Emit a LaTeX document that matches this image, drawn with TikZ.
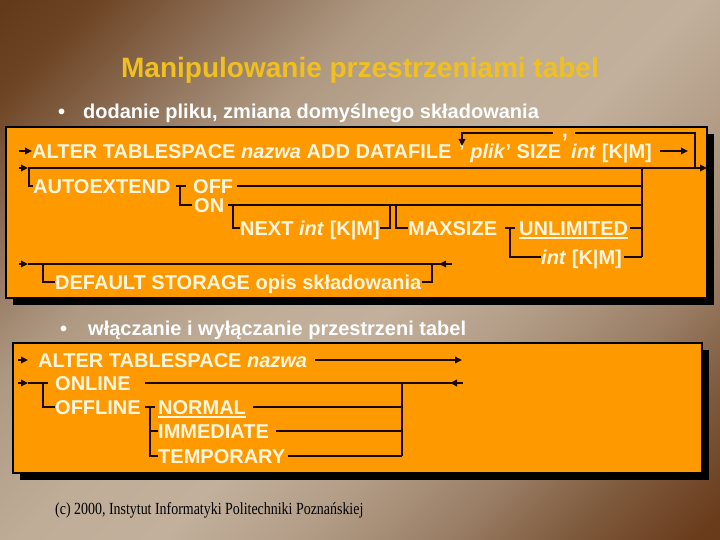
\documentclass[tikz,border=0pt]{standalone}
\usepackage{fontspec}
\setmainfont{Liberation Sans}
\newfontfamily\footfont{Liberation Serif}
\usetikzlibrary{arrows.meta,calc}
\definecolor{boxor}{HTML}{FF9900}
\definecolor{txtc}{HTML}{FFF6E0}
\definecolor{titc}{HTML}{F0C020}
\definecolor{linec}{HTML}{180800}
\definecolor{bgA}{HTML}{5A3012}
\definecolor{bgB}{HTML}{633A1A}
\definecolor{bgC}{HTML}{6E4524}
\definecolor{bgD}{HTML}{8E7058}
\definecolor{bgE}{HTML}{AE9882}
\definecolor{bgF}{HTML}{BFAD98}
\definecolor{bgG}{HTML}{C2B09C}
\definecolor{bgH}{HTML}{B29C86}
\definecolor{bgI}{HTML}{9A7E66}
\definecolor{bgJ}{HTML}{7E5A3C}
\definecolor{bgK}{HTML}{6A3C1C}
\definecolor{bgL}{HTML}{5A2E0E}
\pgfdeclarehorizontalshading{bgshade}{100bp}{color(0bp)=(bgA); color(15bp)=(bgB); color(20bp)=(bgC); color(28bp)=(bgD); color(36bp)=(bgE); color(46bp)=(bgF); color(54bp)=(bgG); color(62bp)=(bgH); color(70bp)=(bgI); color(77bp)=(bgJ); color(84bp)=(bgK); color(100bp)=(bgL)}
\begin{document}
\begin{tikzpicture}[x=1pt,y=-1pt,
  kw/.style={anchor=west,inner sep=0pt,text=txtc,font=\bfseries\fontsize{20}{22}\selectfont,text height=14.3pt,text depth=0pt},
  ln/.style={draw=linec,line width=1.8pt,line join=miter},
  arr/.style={ln,-{Triangle[length=7pt,width=6.5pt]}},
  endmark/.style={ln,-{Triangle[reversed,length=7pt,width=6.5pt]}},
  ul/.style={draw=txtc,line width=1.5pt},
  boxst/.style={draw=black,line width=2pt,fill=boxor},
  shad/.style={fill=black}]
\useasboundingbox (0,0) rectangle (720,540);
\shade[shading=bgshade,shading angle=-45] (0,0) rectangle (720,540);

% title and bullets
\node[text=titc,font=\bfseries\fontsize{28}{32}\selectfont,inner sep=0pt] (title) at (360,70) {Manipulowanie przestrzeniami tabel};
\node[kw,text=white] (b1) at (58,111) {•};
\node[kw,text=white] (t1) at (83,111) {dodanie pliku, zmiana domyślnego składowania};
\node[kw,text=white] (b2) at (60,328) {•};
\node[kw,text=white] (t2) at (88,328) {włączanie i wyłączanie przestrzeni tabel};

% ---------- top box ----------
\fill[shad] (13,134) rectangle (714,305);
\path[boxst] (6,127) rectangle (707,298);

% line 1
\coordinate (s1) at (19,151);
\node[kw] (alt) at (32,151) {ALTER TABLESPACE \textit{nazwa} ADD DATAFILE};
\node[kw] (plik) at (459,151) {’ \textit{plik}’ SIZE};
\node[kw] (intA) at (571,151) {\textit{int} [K|M]};
\coordinate (e1a) at (660,151);
\coordinate (e1b) at (688,151);
\draw[arr] (s1) -- (alt.west);
\draw[arr] (e1a) -- (e1b);
% repetition loop
\coordinate (lpL) at (462,133);
\coordinate (lpD) at (462,146);
\coordinate (cmL) at (553,133);
\coordinate (cmR) at (575,133);
\coordinate (lpR) at (695,133);
\coordinate (lpB) at (695,168);
\node[inner sep=0pt,anchor=base,text=txtc,font=\bfseries\fontsize{22}{24}\selectfont] (cm) at (565,138) {,};
\draw[ln] (lpB) -- (lpR) -- (cmR);
\draw[arr] (cmL) -- (lpL) -- (lpD);

% line 2
\coordinate (s2) at (19,168);
\coordinate (s2b) at (28,168);
\coordinate (e2) at (707,168);
\draw[arr] (s2) -- (s2b);
\draw[arr] (s2b) -- (e2);
\node[kw] (ae) at (33,186) {AUTOEXTEND};
\draw[ln] (29,168) |- (ae.west);
\node[kw] (off) at (193,186) {OFF};
\node[kw] (on) at (194,205) {ON};
\coordinate (j1) at (180,186);
\draw[ln] ($(ae.east)+(5,0)$) -- ($(off.west)+(-7,0)$);
\draw[ln] (j1) |- ($(on.west)+(-2,0)$);
\coordinate (rj) at (642,168);
\coordinate (rjB) at (642,257);
\draw[ln] (rj) -- (rjB);
\draw[ln] ($(off.east)+(4,0)$) -- (off.east -| rj);
\draw[ln] ($(on.east)+(4,0)$) -- (on.east -| rj);
\node[kw] (next) at (240,228) {NEXT \textit{int} [K|M]};
\draw[ln] (233,205) |- (next.west);
\draw[ln] (next.east) -| (390,205);
\node[kw] (maxs) at (408,228) {MAXSIZE};
\draw[ln] (396,205) |- (maxs.west);
\node[kw] (unl) at (519,228) {UNLIMITED};
\node[kw] (intB) at (541,257) {\textit{int} [K|M]};
\draw[ul] ([yshift=-2.5pt]unl.south west) -- ([yshift=-2.5pt]unl.south east);
\draw[ln] ($(maxs.east)+(8,0)$) -- ($(unl.west)+(-4,0)$);
\draw[ln] (510,228) |- (intB.west);
\draw[ln] ($(unl.east)+(2,0)$) -- (unl.east -| rj);
\draw[ln] ($(intB.east)+(2,0)$) -- (rjB);

% line 3
\coordinate (s3) at (19,264);
\coordinate (s3b) at (28,264);
\coordinate (m3) at (446,264);
\coordinate (e3) at (452,264);
\draw[arr] (s3) -- (s3b);
\draw[ln] (s3b) -- (432,264);
\draw[endmark] (432,264) -- (m3);
\draw[ln] (m3) -- (e3);
\node[kw] (ds) at (55,282) {DEFAULT STORAGE opis składowania};
\draw[ln] (43,264) |- (ds.west);
\draw[ln] ($(ds.east)+(1,0)$) -| (432,264);

% ---------- bottom box ----------
\fill[shad] (20,350) rectangle (709,480);
\path[boxst] (13,343) rectangle (702,473);

\node[kw] (alt2) at (38,360) {ALTER TABLESPACE \textit{nazwa}};
\draw[arr] (18,360) -- (28,360);
\coordinate (e4) at (462,360);
\draw[arr] ($(alt2.east)+(8,0)$) -- (e4);

\node[kw] (onl) at (55,383) {ONLINE};
\node[kw] (offl) at (55,407) {OFFLINE};
\coordinate (s5) at (18,383);
\coordinate (s5b) at (28,383);
\draw[arr] (s5) -- (s5b);
\draw[ln] (s5b) -- (48,383);
\draw[ln] (43,383) |- (offl.west);
\coordinate (rj2) at (402,383);
\coordinate (m5) at (457,383);
\coordinate (e5) at (463,383);
\draw[ln] ($(onl.east)+(14,0)$) -- (rj2) -- (443,383);
\draw[endmark] (443,383) -- (m5);
\draw[ln] (m5) -- (e5);

\node[kw] (norm) at (158,407) {NORMAL};
\node[kw] (imm) at (158,431) {IMMEDIATE};
\node[kw] (temp) at (158,456) {TEMPORARY};
\draw[ul] ([yshift=-2.5pt]norm.south west) -- ([yshift=-2.5pt]norm.south east);
\draw[ln] ($(offl.east)+(4,0)$) -- (155,407);
\draw[ln] (150,407) |- (temp.west);
\draw[ln] (150,431) -- (imm.west);
\draw[ln] ($(norm.east)+(7,0)$) -- (norm.east -| rj2);
\draw[ln] ($(imm.east)+(7,0)$) -- (imm.east -| rj2);
\draw[ln] ($(temp.east)+(3,0)$) -- (temp.east -| rj2);
\draw[ln] (rj2) -- (temp.east -| rj2);

% footer
\node[anchor=west,inner sep=0pt,text=black,font=\footfont\fontsize{17}{19}\selectfont] (foot) at (55,510) {\scalebox{0.82}[1]{(c) 2000, Instytut Informatyki Politechniki Poznańskiej}};
\end{tikzpicture}
\end{document}
